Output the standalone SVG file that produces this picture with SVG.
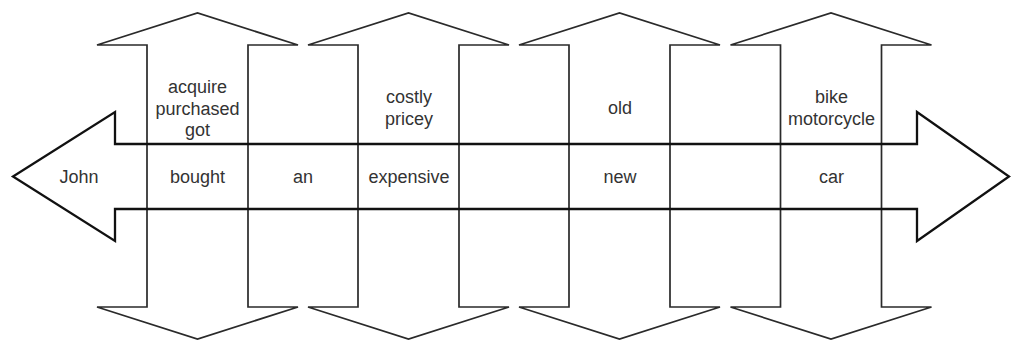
<svg xmlns="http://www.w3.org/2000/svg" width="1011" height="341" viewBox="0 0 1011 341">
<style>
.v{fill:none;stroke:#2a2a2a;stroke-width:1.7;stroke-linejoin:miter}
.h{fill:none;stroke:#111;stroke-width:2.3;stroke-linejoin:miter}
text{font-family:"Liberation Sans",Arial,sans-serif;font-size:18px;fill:#333;text-anchor:middle}
</style>
<defs>
<path id="varrow" d="M147,45 H97 L197.5,13 L298,45 H248 V307 H298 L197.5,339 L97,307 H147 Z"/>
</defs>
<rect width="1011" height="341" fill="#fff"/>
<g id="col-bought">
<use href="#varrow" class="v"/>
<text x="197.5" y="93">acquire</text>
<text x="197.5" y="115">purchased</text>
<text x="197.5" y="136">got</text>
</g>
<g id="col-expensive">
<use href="#varrow" class="v" transform="translate(211,0)"/>
<text x="409" y="103">costly</text>
<text x="409" y="125">pricey</text>
</g>
<g id="col-new">
<use href="#varrow" class="v" transform="translate(422,0)"/>
<text x="620" y="114">old</text>
</g>
<g id="col-car">
<use href="#varrow" class="v" transform="translate(633.5,0)"/>
<text x="831.5" y="103">bike</text>
<text x="831.5" y="125">motorcycle</text>
</g>
<g id="sentence">
<path class="h" d="M115,144 V112 L13,176.5 L115,241 V209 H917 V241 L1009,176.5 L917,112 V144 Z"/>
<text x="79" y="183">John</text>
<text x="197.5" y="183">bought</text>
<text x="303" y="183">an</text>
<text x="409" y="183">expensive</text>
<text x="620" y="183">new</text>
<text x="831.5" y="183">car</text>
</g>
</svg>
